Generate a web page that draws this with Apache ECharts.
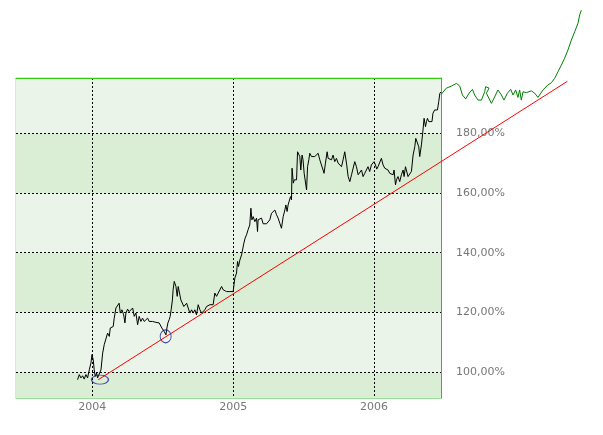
<!DOCTYPE html>
<html><head><meta charset="utf-8">
<script src="https://cdn.jsdelivr.net/npm/echarts@6/dist/echarts.min.js"></script>
<style>html,body{margin:0;padding:0;background:#fff}#c{width:603px;height:435px}</style>
</head><body><div id="c"></div>
<script>
// x = fractional year, y = percent
const priceX = [2003.896,2003.908,2003.920,2003.932,2003.943,2003.955,2003.967,2003.979,2003.991,2003.998,2004.007,2004.014,2004.021,2004.031,2004.038,2004.050,2004.062,2004.074,2004.085,2004.097,2004.109,2004.121,2004.128,2004.140,2004.149,2004.156,2004.168,2004.180,2004.191,2004.199,2004.211,2004.223,2004.232,2004.239,2004.251,2004.262,2004.274,2004.287,2004.298,2004.310,2004.322,2004.333,2004.345,2004.357,2004.369,2004.381,2004.393,2004.404,2004.416,2004.428,2004.440,2004.452,2004.464,2004.475,2004.487,2004.494,2004.504,2004.511,2004.523,2004.530,2004.537,2004.546,2004.553,2004.560,2004.569,2004.574,2004.582,2004.594,2004.603,2004.610,2004.622,2004.629,2004.641,2004.650,2004.657,2004.670,2004.681,2004.693,2004.705,2004.716,2004.728,2004.740,2004.752,2004.764,2004.776,2004.787,2004.799,2004.811,2004.823,2004.835,2004.847,2004.858,2004.870,2004.882,2004.894,2004.906,2004.918,2004.929,2004.941,2004.953,2004.965,2004.977,2004.989,2005.000,2005.012,2005.024,2005.031,2005.038,2005.048,2005.060,2005.071,2005.076,2005.085,2005.095,2005.106,2005.118,2005.126,2005.133,2005.142,2005.154,2005.166,2005.173,2005.177,2005.189,2005.201,2005.213,2005.237,2005.248,2005.260,2005.272,2005.284,2005.296,2005.308,2005.319,2005.331,2005.343,2005.355,2005.367,2005.374,2005.383,2005.390,2005.402,2005.407,2005.414,2005.418,2005.427,2005.434,2005.450,2005.457,2005.466,2005.473,2005.480,2005.489,2005.496,2005.504,2005.513,2005.521,2005.528,2005.537,2005.544,2005.556,2005.567,2005.579,2005.591,2005.603,2005.615,2005.627,2005.638,2005.645,2005.655,2005.667,2005.674,2005.686,2005.698,2005.709,2005.721,2005.733,2005.745,2005.757,2005.769,2005.780,2005.792,2005.799,2005.806,2005.816,2005.828,2005.840,2005.851,2005.863,2005.875,2005.887,2005.899,2005.911,2005.922,2005.934,2005.946,2005.957,2005.969,2005.981,2005.993,2006.000,2006.010,2006.019,2006.028,2006.040,2006.052,2006.064,2006.076,2006.088,2006.099,2006.111,2006.123,2006.135,2006.142,2006.152,2006.159,2006.170,2006.182,2006.194,2006.206,2006.213,2006.223,2006.230,2006.241,2006.253,2006.265,2006.277,2006.289,2006.296,2006.308,2006.317,2006.324,2006.336,2006.345,2006.355,2006.365,2006.372,2006.379,2006.388,2006.400,2006.411,2006.418,2006.430,2006.443,2006.450,2006.459,2006.467,2006.474];
const priceY = [97.5,99.2,98.1,98.8,97.7,99.2,98.1,100.8,103.1,105.9,104.2,100.8,98.6,99.7,98.1,98.6,100.8,106.4,109.2,108.9,113.1,112.0,114.8,114.4,115.3,118.1,121.5,120.9,123.1,119.8,120.9,119.2,116.5,119.8,121.1,120.3,120.9,121.5,118.7,119.8,115.9,118.7,117.0,118.1,117.0,117.6,118.1,117.0,117.6,117.0,117.3,116.7,117.0,116.5,115.9,114.8,114.2,113.6,112.5,114.8,116.5,117.6,118.7,120.9,124.2,127.6,130.4,128.7,125.4,128.7,128.7,124.2,124.8,122.0,121.5,123.1,121.5,119.8,120.9,119.8,120.9,119.2,122.6,120.9,119.8,120.3,120.9,122.0,121.5,122.6,123.1,122.6,126.5,125.4,126.5,127.0,128.7,127.6,128.2,127.0,127.6,127.0,127.6,127.0,131.5,133.2,137.1,135.4,137.6,139.3,139.9,143.2,144.9,146.0,147.7,149.3,154.9,151.0,152.1,150.4,151.6,147.1,151.0,150.4,151.6,149.7,149.7,149.7,151.0,153.2,153.8,154.3,152.7,151.6,149.9,148.2,152.1,154.3,156.0,153.8,156.0,156.6,158.8,157.7,168.3,163.3,164.4,164.4,173.8,174.4,172.2,167.7,172.7,171.1,166.6,166.1,161.0,168.8,171.1,173.3,172.2,171.6,172.2,171.6,173.3,171.1,171.6,167.7,166.6,170.0,173.8,171.6,172.2,171.1,172.7,170.5,171.6,170.0,170.5,168.8,171.1,173.8,173.8,169.4,165.5,163.8,166.1,166.1,170.5,168.8,166.1,165.5,167.7,165.5,166.6,166.1,168.8,167.2,169.4,169.4,170.5,169.4,168.0,168.8,168.3,171.6,169.4,168.3,168.8,167.7,166.6,167.2,166.1,167.7,162.7,164.4,165.5,163.8,166.1,167.7,165.5,168.8,168.3,165.5,165.0,167.2,172.7,175.5,178.3,177.8,175.5,172.2,176.1,180.0,185.0,182.2,183.9,185.0,183.9,183.9,183.9,186.7,187.8,188.4,187.8,190.6,193.4,193.8];
const forecastX = [2006.477,2006.513,2006.549,2006.584,2006.608,2006.627,2006.650,2006.674,2006.698,2006.714,2006.738,2006.762,2006.785,2006.792,2006.816,2006.797,2006.833,2006.856,2006.879,2006.904,2006.922,2006.946,2006.970,2006.986,2007.005,2007.021,2007.033,2007.045,2007.057,2007.081,2007.092,2007.116,2007.140,2007.163,2007.199,2007.234,2007.258,2007.282,2007.305,2007.329,2007.352,2007.376,2007.400,2007.424,2007.447,2007.459,2007.471];
const forecastY = [193.1,195.1,195.8,196.7,195.8,192.8,191.5,193.4,194.7,192.8,191.1,191.1,193.9,195.6,195.1,193.4,190.0,192.2,194.5,192.8,191.1,193.4,194.7,192.8,194.5,192.0,194.5,191.1,193.9,193.6,194.2,194.2,193.4,192.0,194.5,196.2,196.9,198.4,200.6,202.8,205.1,207.9,211.2,214.0,216.8,219.6,221.2];
const trendX = [2004.043, 2007.372];
const trendY = [97.5, 197.4];
const markerX = [2004.055, 2004.521];
const markerY = [97.5, 112.0];
const yTicks = [100, 120, 140, 160, 180];
const xTicks = [2004, 2005, 2006];
const bandEdges = [91.37, 100, 120, 140, 160, 180, 198.5];
const xRange = [2003.459, 2006.475];
const yRange = [91.37, 198.5];
const xRangeWide = [2003.459, 2007.55];
const yRangeWide = [91.37, 224];

const W = 603, H = 435;
const plot = { left: 16, top: 78, right: 441, bottom: 398 };
const pxPerX = (plot.right - plot.left) / (xRange[1] - xRange[0]);
const pxPerY = (plot.bottom - plot.top) / (yRange[1] - yRange[0]);
const wideRight = plot.left + (xRangeWide[1] - xRangeWide[0]) * pxPerX;
const wideTop = plot.bottom - (yRangeWide[1] - yRangeWide[0]) * pxPerY;

const zip = (xs, ys) => xs.map((x, i) => [x, ys[i]]);
const bandColors = ['#daedd5', '#eaf4e9'];
const bands = [];
for (let i = 0; i < bandEdges.length - 1; i++) {
  bands.push([{ yAxis: bandEdges[i], itemStyle: { color: bandColors[i % 2], opacity: 1 } }, { yAxis: bandEdges[i + 1] }]);
}
const markerSizes = [[17, 9], [11, 13]];

const chart = echarts.init(document.getElementById('c'), null, { renderer: 'canvas' });
const font = { color: '#777', fontSize: 11, fontFamily: 'DejaVu Sans' };
const gridLine = { show: true, lineStyle: { color: '#000', type: [2, 2], width: 1 } };
chart.setOption({
  animation: false,
  grid: [
    { left: plot.left, top: plot.top, right: W - plot.right, bottom: H - plot.bottom, show: true, borderColor: '#9ade9a', borderWidth: 1, backgroundColor: 'transparent', z: 0 },
    { left: plot.left, top: wideTop, right: W - wideRight, bottom: H - plot.bottom, show: false }
  ],
  xAxis: [{
    gridIndex: 0, type: 'value', min: xRange[0], max: xRange[1], z: 1,
    axisLine: { show: true, lineStyle: { color: '#9ade9a' } },
    axisTick: { show: false, customValues: xTicks },
    axisLabel: Object.assign({ customValues: xTicks, margin: 4, formatter: v => String(Math.round(v)) }, font),
    splitLine: gridLine
  }, {
    gridIndex: 0, type: 'value', position: 'top', min: xRange[0], max: xRange[1], z: 1,
    axisLine: { show: true, onZero: false, lineStyle: { color: '#33cc11' } },
    axisTick: { show: false }, axisLabel: { show: false }, splitLine: { show: false }
  }, {
    gridIndex: 1, type: 'value', min: xRangeWide[0], max: xRangeWide[1], show: false
  }],
  yAxis: [{
    gridIndex: 0, type: 'value', position: 'right', min: yRange[0], max: yRange[1], z: 1,
    axisLine: { show: true, onZero: false, lineStyle: { color: '#33bb33' } },
    axisTick: { show: false, customValues: yTicks },
    axisLabel: Object.assign({ customValues: yTicks, margin: 15, formatter: v => v.toFixed(2).replace('.', ',') + '%' }, font),
    splitLine: gridLine
  }, {
    gridIndex: 1, type: 'value', min: yRangeWide[0], max: yRangeWide[1], show: false
  }],
  series: [
    { type: 'line', xAxisIndex: 0, yAxisIndex: 0, z: 0, data: [], markArea: { silent: true, z: 0, data: bands } },
    { type: 'line', xAxisIndex: 0, yAxisIndex: 0, z: 3, data: zip(priceX, priceY), showSymbol: false, clip: false, lineStyle: { color: '#000', width: 1 } },
    { type: 'line', xAxisIndex: 2, yAxisIndex: 1, z: 3, data: zip(forecastX, forecastY), showSymbol: false, lineStyle: { color: '#008000', width: 1 } },
    { type: 'line', xAxisIndex: 2, yAxisIndex: 1, z: 3, data: zip(trendX, trendY), showSymbol: false, lineStyle: { color: '#ff0000', width: 1 } },
    { type: 'scatter', xAxisIndex: 0, yAxisIndex: 0, z: 4, data: zip(markerX, markerY).map((p, i) => ({ value: p, symbolSize: markerSizes[i] })), symbol: 'circle',
      itemStyle: { color: 'rgba(0,0,0,0)', borderColor: '#1c1c9c', borderWidth: 1 } }
  ]
});
</script></body></html>
